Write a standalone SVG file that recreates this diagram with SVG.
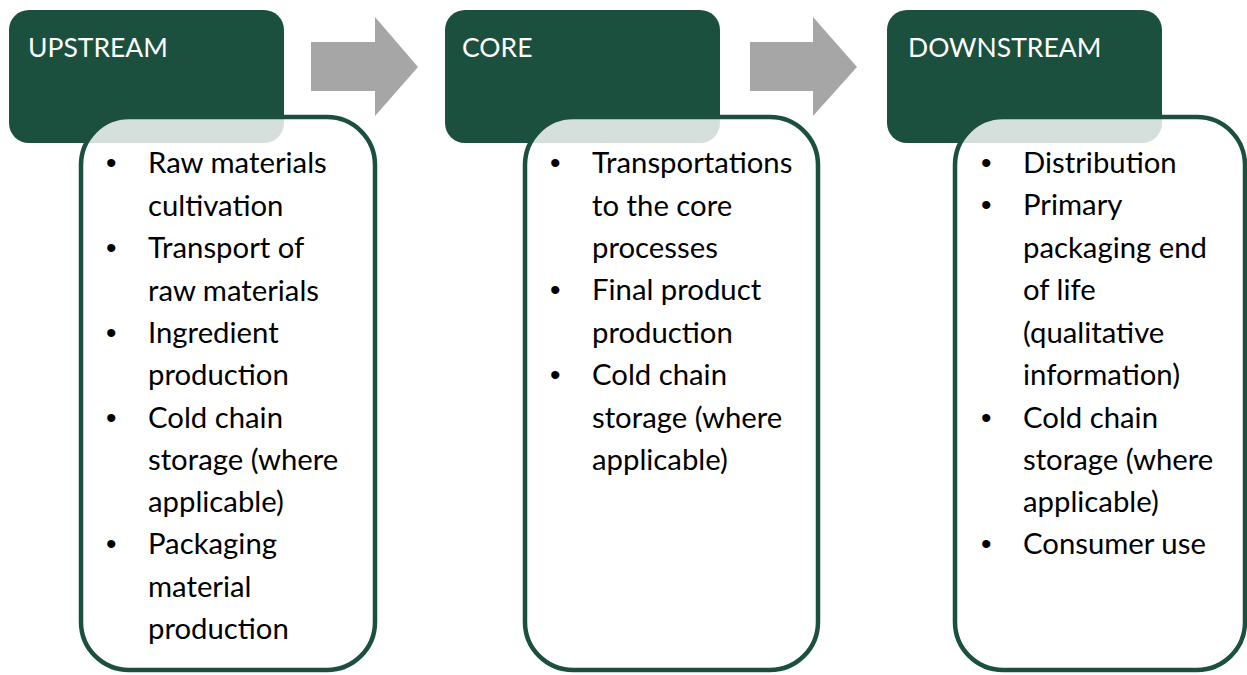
<svg xmlns="http://www.w3.org/2000/svg" width="1247" height="675" viewBox="0 0 1247 675">
<style>
.hdr{fill:#1b4f3e}
.body{fill:#ffffff;fill-opacity:0.82;stroke:#1b4f3e;stroke-width:4.5}
.ht{font-family:Lato,"Open Sans",sans-serif;font-size:26.5px;fill:#ffffff}
.bt{font-family:Lato,"Open Sans",sans-serif;font-size:29.3px;fill:#000000}
.bul{font-family:"Liberation Sans",Arial,sans-serif;font-size:30px;fill:#000000}
.arr{fill:#a6a6a6}
</style>
<rect width="1247" height="675" fill="#ffffff"/>
<g id="connectors">
<polygon class="arr" points="311,42 375,42 375,17 418,67 375,116 375,91 311,91"/>
<polygon class="arr" points="750,42 813,42 813,17 857,67 813,116 813,91 750,91"/>
</g>
<g id="upstream">
<rect class="hdr" x="9" y="10" width="275" height="133" rx="20"/>
<text class="ht" x="28" y="57">UPSTREAM</text>
<rect class="body" x="81" y="117" width="294" height="553" rx="48"/>
<g class="bul">
<text x="106" y="173">•</text><text x="106" y="258">•</text><text x="106" y="343">•</text><text x="106" y="428">•</text><text x="106" y="554">•</text>
</g>
<g class="bt">
<text x="148" y="173">Raw materials</text>
<text x="148" y="216">cultivation</text>
<text x="148" y="258">Transport of</text>
<text x="148" y="301">raw materials</text>
<text x="148" y="343">Ingredient</text>
<text x="148" y="385">production</text>
<text x="148" y="428">Cold chain</text>
<text x="148" y="470">storage (where</text>
<text x="148" y="512">applicable)</text>
<text x="148" y="554">Packaging</text>
<text x="148" y="597">material</text>
<text x="148" y="639">production</text>
</g>
</g>
<g id="core">
<rect class="hdr" x="445" y="10" width="275" height="133" rx="20"/>
<text class="ht" x="462" y="57">CORE</text>
<rect class="body" x="525" y="117" width="293" height="553" rx="48"/>
<g class="bul">
<text x="550" y="173">•</text><text x="550" y="300">•</text><text x="550" y="385">•</text>
</g>
<g class="bt">
<text x="592" y="173">Transportations</text>
<text x="592" y="216">to the core</text>
<text x="592" y="258">processes</text>
<text x="592" y="300">Final product</text>
<text x="592" y="343">production</text>
<text x="592" y="385">Cold chain</text>
<text x="592" y="428">storage (where</text>
<text x="592" y="470">applicable)</text>
</g>
</g>
<g id="downstream">
<rect class="hdr" x="887" y="10" width="275" height="133" rx="20"/>
<text class="ht" x="908" y="57">DOWNSTREAM</text>
<rect class="body" x="955" y="117" width="290" height="553" rx="48"/>
<g class="bul">
<text x="981" y="173">•</text><text x="981" y="215">•</text><text x="981" y="428">•</text><text x="981" y="554">•</text>
</g>
<g class="bt">
<text x="1023" y="173">Distribution</text>
<text x="1023" y="215">Primary</text>
<text x="1023" y="258">packaging end</text>
<text x="1023" y="300">of life</text>
<text x="1023" y="343">(qualitative</text>
<text x="1023" y="385">information)</text>
<text x="1023" y="428">Cold chain</text>
<text x="1023" y="470">storage (where</text>
<text x="1023" y="512">applicable)</text>
<text x="1023" y="554">Consumer use</text>
</g>
</g>
</svg>
